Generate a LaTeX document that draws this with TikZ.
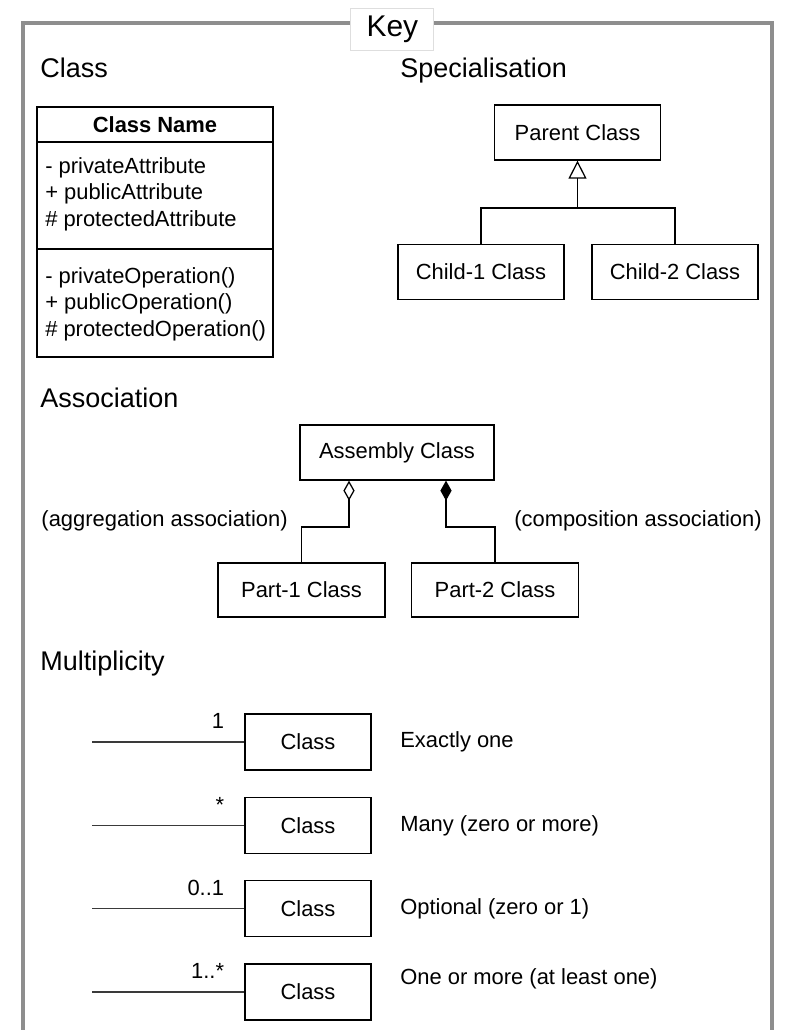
\documentclass[tikz,border=0pt]{standalone}
\usepackage{fontspec}
\setmainfont{Liberation Sans}
\usepackage{xcolor}
\definecolor{keygrey}{HTML}{8E8E8E}
\definecolor{keyedge}{HTML}{DEDEDE}
\definecolor{keyline}{HTML}{3A3A3A}
\usetikzlibrary{arrows.meta,positioning,calc}

\begin{document}
\begin{tikzpicture}[
  font=\fontsize{15.6}{18.9}\selectfont,
  frame/.style={line width=2.8pt, keygrey},
  keylbl/.style={rectangle, draw=keyedge, fill=white, line width=0.6pt,
                 minimum width=2.075cm, minimum height=1.05cm, inner sep=0pt,
                 font=\fontsize{21.3}{25}\selectfont},
  box/.style={rectangle, draw=black, line width=0.9pt, minimum width=4.15cm,
              minimum height=1.375cm, inner sep=0pt, align=center},
  compart/.style={rectangle, draw=black, line width=0.9pt, minimum width=5.9cm,
                  inner sep=0pt, outer sep=0pt},
  members/.style={align=left, inner sep=0pt, anchor=north west},
  hdr/.style={font=\fontsize{19.2}{23}\selectfont, anchor=base west, inner sep=0pt},
  note/.style={inner sep=0pt},
  mult/.style={inner sep=0pt, anchor=base east},
  link/.style={line width=0.9pt, black},
  gen/.style={-{Triangle[open, length=0.45cm, width=0.45cm]}, line width=0.9pt},
  agg/.style={-{Diamond[open, length=0.5cm, width=0.28cm]}, line width=0.9pt},
  comp/.style={-{Diamond[length=0.5cm, width=0.28cm]}, line width=0.9pt},
  assoc/.style={line width=0.9pt, keyline},
]
\useasboundingbox (0,0) rectangle (19.675,-25.75);

% ---------- the open frame and its title
\draw[frame] (0.575,-25.9) |- (19.3,-0.575) -- (19.3,-25.9);
\node[keylbl] (key) at (9.81,-0.725) {Key};

% ---------- section headings
\node[hdr] (hclass) at (1.0,-1.95)   {Class};
\node[hdr] (hspec)  at (10.0,-1.95)  {Specialisation};
\node[hdr] (hassoc) at (1.0,-10.175) {Association};
\node[hdr] (hmult)  at (1.0,-16.75)  {Multiplicity};

% ---------- class box
\node[compart, minimum height=0.875cm, font=\fontsize{15.6}{18.9}\selectfont\bfseries]
  (cname) at (3.875,-3.1125) {Class Name};
\node[compart, minimum height=2.675cm, below=0pt of cname] (cattr) {};
\node[compart, minimum height=2.7cm, below=0pt of cattr]   (cops)  {};
\node[members] (attrs) at ($(cattr.north west)+(0.2,-0.375)$)
  {- privateAttribute\\+ publicAttribute\\\# protectedAttribute};
\node[members] (ops) at ($(cops.north west)+(0.2,-0.45)$)
  {- privateOperation()\\+ publicOperation()\\\# protectedOperation()};

% ---------- specialisation
\node[box] (parent) at (14.4375,-3.3125) {Parent Class};
\node[box] (child1) at (12.025,-6.8)     {Child-1 Class};
\node[box] (child2) at (16.875,-6.8)     {Child-2 Class};
\coordinate (gjoin) at (14.4375,-5.2);
\draw[gen] (gjoin) -- (parent.south);
\draw[link] (child1.north) |- (gjoin) -| (child2.north);

% ---------- association
\node[box, minimum width=4.85cm] (assembly) at (9.925,-11.3125) {Assembly Class};
\node[box, minimum width=4.175cm, minimum height=1.35cm] (part1) at (7.5375,-14.75) {Part-1 Class};
\node[box, minimum width=4.175cm, minimum height=1.35cm] (part2) at (12.375,-14.75) {Part-2 Class};
\coordinate (aggbend)  at (8.725,-13.175);
\coordinate (compbend) at (11.15,-13.175);
\draw[agg]  (part1.north) |- (aggbend)  -- (aggbend |- assembly.south);
\draw[comp] (part2.north) |- (compbend) -- (compbend |- assembly.south);
\node[note, anchor=east] (aggtxt)  at (7.2,-13.025)  {(aggregation association)};
\node[note, anchor=west] (comptxt) at (12.85,-13.025) {(composition association)};

% ---------- multiplicity rows
\foreach \m/\y/\lab/\txt/\dy in {1/-18.55/1/Exactly one/0,
                                 2/-20.633/{*}/Many (zero or more)/0,
                                 3/-22.717/0..1/Optional (zero or 1)/0,
                                 4/-24.8/1..*/One or more (at least one)/0.325} {
  \node[box, minimum width=3.15cm, minimum height=1.4cm] (mc\m) at (7.7,\y) {Class};
  \coordinate (me\m) at (2.3,\y);
  \draw[assoc] (me\m) -- (mc\m.west);
  \node[mult] (ml\m) at ($(mc\m.west)+(-0.5,0.33)$) {\lab};
  \node[note, anchor=west] (mt\m) at (10.0,\y+\dy) {\txt};
}
\end{tikzpicture}
\end{document}
